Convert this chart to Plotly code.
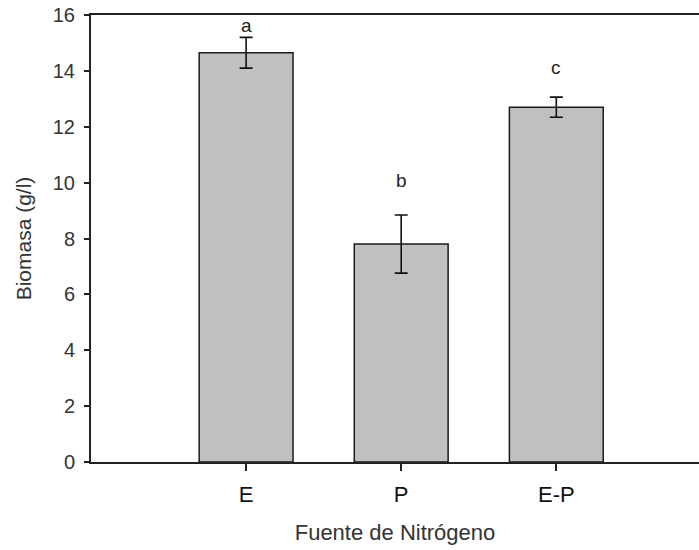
import plotly.graph_objects as go

categories = ["E", "P", "E-P"]
biomasa = [14.65, 7.80, 12.70]
errores = [0.55, 1.04, 0.36]
letras = ["a", "b", "c"]
letra_y = [15.62, 10.09, 14.11]
y_ticks = [0, 2, 4, 6, 8, 10, 12, 14, 16]

xpos = list(range(len(categories)))

fig = go.Figure()
fig.add_trace(go.Bar(
    x=xpos, y=biomasa, width=0.605,
    marker=dict(color="#c0c0c0", line=dict(color="#1a1a1a", width=1.5)),
    error_y=dict(type="data", array=errores, visible=True, color="#111111",
                 thickness=1.6, width=6.5),
))
for x, y, t in zip(xpos, letra_y, letras):
    fig.add_annotation(x=x, y=y, text=t, showarrow=False,
                       font=dict(size=19, color="#222222", family="Liberation Sans, Arial"),
                       xref="x", yref="y")

fig.update_layout(
    width=699, height=550,
    margin=dict(l=91, r=0, t=15, b=88),
    plot_bgcolor="white", paper_bgcolor="white",
    showlegend=False,
    font=dict(family="Liberation Sans, Arial", size=19, color="#333333"),
    xaxis=dict(
        range=[-1, 2.92], tickmode="array", tickvals=xpos, ticktext=categories,
        ticks="outside", ticklen=7, tickwidth=1.5, tickcolor="#222222",
        showline=True, linecolor="#222222", linewidth=2, mirror=True,
        showgrid=False, zeroline=False, automargin=False,
        tickfont=dict(size=22, color="#111111"),
        ticklabelstandoff=5,
        title=dict(text="Fuente de Nitrógeno", font=dict(size=22, color="#333333"), standoff=18),
    ),
    yaxis=dict(
        range=[0, 16], tickmode="array", tickvals=y_ticks,
        ticks="outside", ticklen=5, tickwidth=1.5, tickcolor="#222222",
        showline=True, linecolor="#222222", linewidth=2,
        showgrid=False, zeroline=False, automargin=False,
        tickfont=dict(size=20, color="#333333"),
        ticklabelstandoff=5,
        title=dict(text="Biomasa (g/l)", font=dict(size=21, color="#333333"), standoff=15),
    ),
)
fig.write_html("out.html", config={"displayModeBar": False},
               post_script="document.body.style.margin='0';document.body.style.overflow='hidden';")
